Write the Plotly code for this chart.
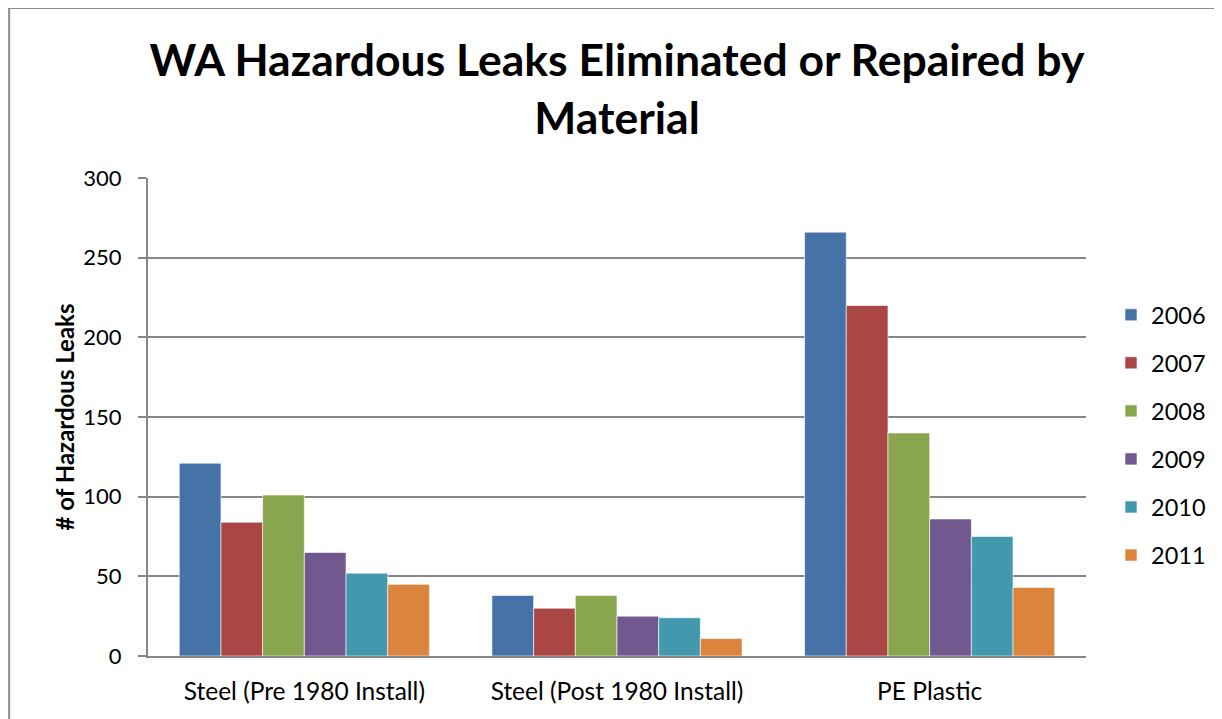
import plotly.graph_objects as go

categories = ["Steel (Pre 1980 Install)", "Steel (Post 1980 Install)", "PE Plastic"]
years = ["2006", "2007", "2008", "2009", "2010", "2011"]
v2006 = [121, 38, 266]
v2007 = [84, 30, 220]
v2008 = [101, 38, 140]
v2009 = [65, 25, 86]
v2010 = [52, 24, 75]
v2011 = [45, 11, 43]
series = [v2006, v2007, v2008, v2009, v2010, v2011]
colors = ["#4572A7", "#AA4643", "#89A54E", "#71588F", "#4198AF", "#DB843D"]

# page has an 8px body margin, so the figure is drawn 8px smaller
W, H = 1214, 711
L, R, T, B = 140, 135, 170, 63

fig = go.Figure()
for y, vals, c in zip(years, series, colors):
    fig.add_trace(go.Bar(
        name=y, x=categories, y=vals, marker_color=c,
        marker_line=dict(color="rgba(255,255,255,0.6)", width=1),
        legendgroup=y,
    ))

pw = W - L - R
ph = H - T - B
def px_x(p):
    return (p - L) / pw
def px_y(p):
    return (H - B - p) / ph

FONT = "Lato, Open Sans, sans-serif"

fig.update_layout(
    width=W, height=H,
    margin=dict(l=L, r=R, t=T, b=B),
    paper_bgcolor="white", plot_bgcolor="white",
    barmode="group", bargap=0.2, bargroupgap=0,
    font=dict(family=FONT, color="black"),
    title=dict(
        text="<b>WA Hazardous Leaks Eliminated or Repaired by<br>Material</b>",
        x=0.5, xanchor="center", xref="paper",
        y=1 - 68 / H, yanchor="top",
        font=dict(family=FONT, size=44.5, color="black"),
    ),
    showlegend=True,
    legend=dict(
        x=px_x(1103), xanchor="left", y=px_y(285), yanchor="top",
        font=dict(family=FONT, size=23.5, color="black"),
        traceorder="grouped", tracegroupgap=14.5,
        bgcolor="rgba(0,0,0,0)",
    ),
    xaxis=dict(
        showline=True, linecolor="#868686", linewidth=2,
        ticks="", showgrid=False,
        ticklabelstandoff=13,
        tickfont=dict(family=FONT, size=24.5, color="black"),
    ),
    yaxis=dict(
        range=[0, 300], dtick=50, tick0=0,
        showgrid=True, gridcolor="#868686", gridwidth=1.5,
        showline=True, linecolor="#868686", linewidth=2,
        ticks="outside", ticklen=8, tickcolor="#868686", tickwidth=1.5,
        ticklabelstandoff=12,
        tickfont=dict(family=FONT, size=22, color="black"),
        title=dict(text="<b># of Hazardous Leaks</b>", standoff=2,
                   font=dict(family=FONT, size=24, color="black")),
        zeroline=False,
    ),
)

# chart-area border (left and top edges visible)
fig.add_shape(type="line", xref="paper", yref="paper",
              x0=px_x(0), x1=px_x(W), y0=px_y(0), y1=px_y(0),
              line=dict(color="#8c8c8c", width=2))
fig.add_shape(type="line", xref="paper", yref="paper",
              x0=px_x(1), x1=px_x(1), y0=px_y(0), y1=px_y(H),
              line=dict(color="#8c8c8c", width=2))

fig.write_html("out.html")
